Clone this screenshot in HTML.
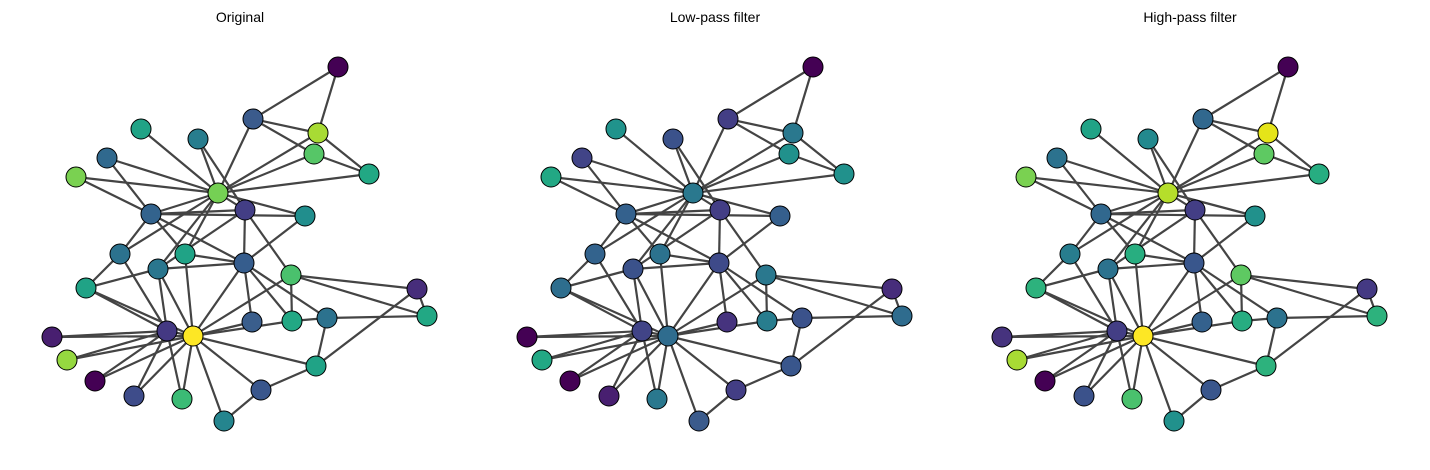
<!DOCTYPE html>
<html><head><meta charset="utf-8"><style>
body{margin:0;background:#fff;}
svg{display:block;}
text{font-family:"Liberation Sans",sans-serif;font-size:14px;}
</style></head><body>
<svg id="s" width="1430" height="470" xmlns="http://www.w3.org/2000/svg">
<text x="240" y="22" text-anchor="middle">Original</text>
<text x="715" y="22" text-anchor="middle">Low-pass filter</text>
<text x="1190" y="22" text-anchor="middle">High-pass filter</text>
</svg>
<script>
var N={A:[338,67],B:[253,119],C:[318,133],D:[314,154],E:[369,174],F:[141,129],G:[198,139],H:[107,158],I:[76,177],J:[218,193],K:[151,214],L:[245,210],M:[305,216],N:[120,254],O:[185,254],P:[158,269],Q:[244,263],R:[291,275],S:[86,288],T:[417,289],U:[427,316],V:[167,331],W:[193,336],X:[252,322],Y:[292,321],Z:[327,318],a:[52,337],b:[67,360],c:[95,381],d:[134,396],e:[182,399],f:[224,421],g:[261,390],h:[316,366]};
var E="AB AC BC BD CE DE JC JD JE BJ JF JG GL JH JI IK HK JK JL JM KL KM KN JN JO JP LP KQ KO LQ LR MQ OQ PQ NS SP SV SW NV PV PW OW QW QX QY QZ RW RY RT ZU TU RU Th Zh WX WY YZ Wh Wg Wf We Wd Wc Wb Wa Va Vb Vc Vd Ve VW gf gh".split(" ");
var C=[
{A:"#440154",B:"#3b5b8c",C:"#a8db34",D:"#56c667",E:"#22a884",F:"#20a386",G:"#287d8e",H:"#30698e",I:"#7ad151",J:"#75d054",K:"#33638d",L:"#433e85",M:"#218e8d",N:"#2c728e",O:"#20a386",P:"#2a768e",Q:"#365d8d",R:"#4ac16d",S:"#20a386",T:"#472d7b",U:"#22a884",V:"#443983",W:"#fde725",X:"#3a5e8c",Y:"#22a884",Z:"#2c728e",a:"#481f70",b:"#95d840",c:"#440154",d:"#3e4c8a",e:"#3bbb75",f:"#25858e",g:"#39568c",h:"#20a386"},
{A:"#440154",B:"#433e85",C:"#2a788e",D:"#21918c",E:"#21918c",F:"#20938c",G:"#3b528b",H:"#414487",I:"#22a884",J:"#2a788e",K:"#34618d",L:"#433e85",M:"#355f8d",N:"#33638d",O:"#2c728e",P:"#3b528b",Q:"#3e4a89",R:"#2a788e",S:"#2e6e8e",T:"#472d7b",U:"#2f6c8e",V:"#414487",W:"#2f6c8e",X:"#46337e",Y:"#287d8e",Z:"#3b528b",a:"#440154",b:"#22a884",c:"#440154",d:"#481f70",e:"#2a788e",f:"#3b5b8c",g:"#433e85",h:"#39568c"},
{A:"#440154",B:"#31688e",C:"#e5e419",D:"#5ec962",E:"#27ad81",F:"#20a386",G:"#23898e",H:"#2c728e",I:"#7ad151",J:"#b5de2b",K:"#31688e",L:"#433e85",M:"#21918c",N:"#287d8e",O:"#28ae80",P:"#2c728e",Q:"#39568c",R:"#5ec962",S:"#2db27d",T:"#443983",U:"#2db27d",V:"#433e85",W:"#fde725",X:"#34618d",Y:"#27ad81",Z:"#2c728e",a:"#46337e",b:"#a8db34",c:"#440154",d:"#3b528b",e:"#4ac16d",f:"#21918c",g:"#39568c",h:"#2db27d"}];
var s=document.getElementById("s"),h="";
for(var p=0;p<3;p++){var o=p*475;
E.forEach(function(e){var a=N[e[0]],b=N[e[1]];h+='<line x1="'+(a[0]+o)+'" y1="'+a[1]+'" x2="'+(b[0]+o)+'" y2="'+b[1]+'" stroke="#444" stroke-width="2.2"/>';});
for(var k in N){h+='<circle cx="'+(N[k][0]+o)+'" cy="'+N[k][1]+'" r="10" fill="'+C[p][k]+'" stroke="#000" stroke-width="1"/>';}}
s.insertAdjacentHTML("beforeend",h);
</script>
</body></html>
